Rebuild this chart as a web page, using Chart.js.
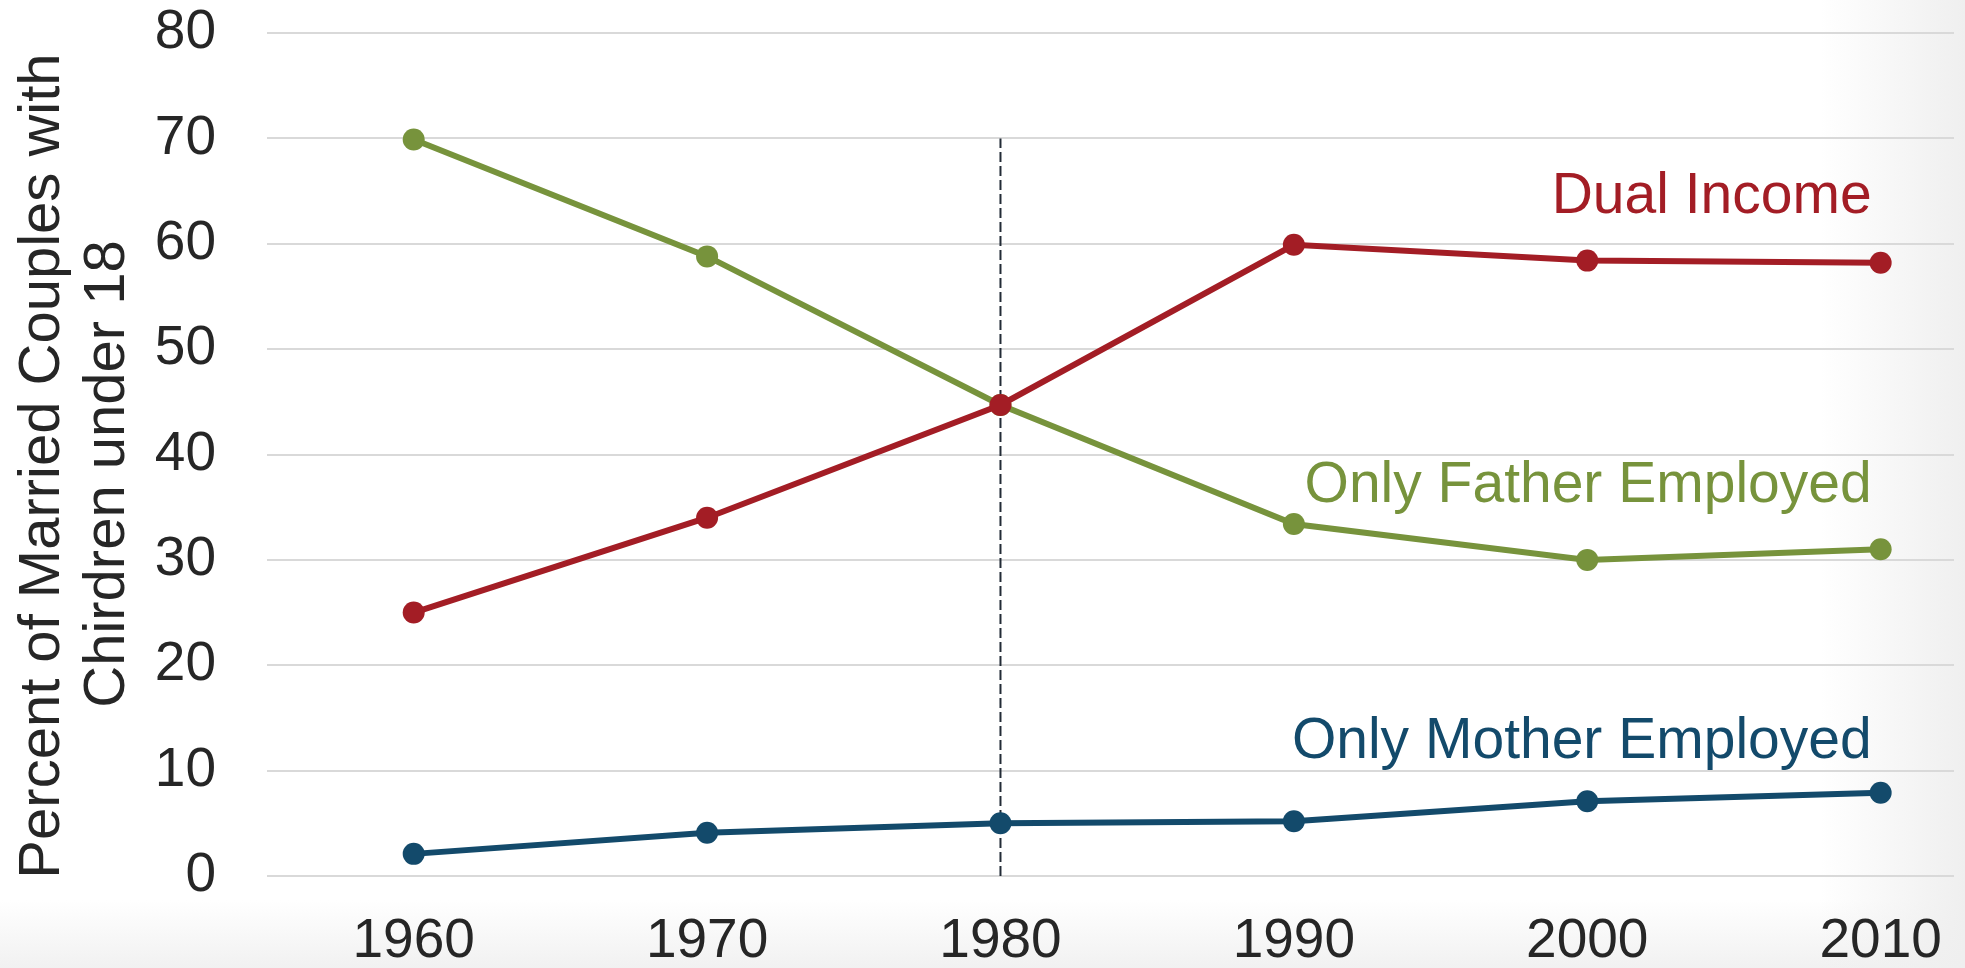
<!DOCTYPE html>
<html>
<head>
<meta charset="utf-8">
<script src="https://cdn.jsdelivr.net/npm/chart.js@4.4.0/dist/chart.umd.min.js"></script>
<style>
  html, body { margin: 0; padding: 0; }
  body {
    width: 1965px; height: 968px; overflow: hidden;
    background:
      linear-gradient(to right, rgba(255,255,255,0) 0, rgba(255,255,255,0) 1820px, #efefef 1965px),
      linear-gradient(to bottom, #ffffff 0, #ffffff 900px, #f1f1f1 968px);
  }
  #wrap { position: relative; width: 1965px; height: 968px; }
</style>
</head>
<body>
<div id="wrap"><canvas id="chart" width="1965" height="968"></canvas></div>
<script>
"use strict";

// values
const years = [1960, 1970, 1980, 1990, 2000, 2010];
const dualIncome = [25.0, 34.0, 44.7, 59.9, 58.4, 58.2];
const onlyFather = [69.9, 58.8, 44.7, 33.4, 30.0, 31.0];
const onlyMother = [2.1, 4.1, 5.0, 5.2, 7.1, 7.9];
const yTicks = [0, 10, 20, 30, 40, 50, 60, 70, 80];
const markerYear = 1980;
const markerSpan = [0, 70];
const seriesNames = ["Dual Income", "Only Father Employed", "Only Mother Employed"];
const yTitle = ["Percent of Married Couples with", "Chirdren under 18"];

const RED = "#a31d25";
const GREEN = "#77933c";
const NAVY = "#134a6b";
const FONT = "'Liberation Sans', Arial, sans-serif";

function toPoints(vals) {
  return years.map((y, i) => ({ x: y, y: vals[i] }));
}

function lineSet(label, vals, color) {
  return {
    label: label,
    data: toPoints(vals),
    borderColor: color,
    backgroundColor: color,
    pointBackgroundColor: color,
    pointBorderWidth: 0,
    pointRadius: 11,
    borderWidth: 6,
    tension: 0
  };
}

// series names + rotated axis title
const textPlugin = {
  id: "texts",
  afterDraw(chart) {
    const ctx = chart.ctx;
    const xs = chart.scales.x, ys = chart.scales.y;
    const right = xs.getPixelForValue(2010) - 9;
    ctx.save();
    ctx.font = "57px " + FONT;
    ctx.textAlign = "right";
    ctx.textBaseline = "alphabetic";
    [[seriesNames[0], RED, 62.9], [seriesNames[1], GREEN, 35.5], [seriesNames[2], NAVY, 11.2]].forEach(t => {
      ctx.fillStyle = t[1];
      ctx.fillText(t[0], right, ys.getPixelForValue(t[2]));
    });

    ctx.font = "58px " + FONT;
    ctx.fillStyle = "#262626";
    ctx.textAlign = "center";
    [[yTitle[0], 59, 466], [yTitle[1], 124, 474]].forEach(t => {
      ctx.save();
      ctx.translate(t[1], t[2]);
      ctx.rotate(-Math.PI / 2);
      ctx.fillText(t[0], 0, 0);
      ctx.restore();
    });
    ctx.restore();
  }
};

function noPad(s) {
  s.paddingTop = 0; s.paddingBottom = 0;
  s.paddingLeft = 0; s.paddingRight = 0;
}

new Chart(document.getElementById("chart"), {
  type: "line",
  data: {
    datasets: [
      {
        label: "1980 marker",
        data: markerSpan.map(v => ({ x: markerYear, y: v })),
        borderColor: "#222b36",
        borderWidth: 2,
        borderDash: [10, 4],
        pointRadius: 0,
        order: 5
      },
      lineSet(seriesNames[0], dualIncome, RED),
      lineSet(seriesNames[2], onlyMother, NAVY),
      lineSet(seriesNames[1], onlyFather, GREEN)
    ]
  },
  options: {
    responsive: false,
    animation: false,
    layout: { padding: { top: 33, right: 0, left: 0, bottom: 0 } },
    plugins: {
      legend: { display: false },
      tooltip: { enabled: false }
    },
    scales: {
      x: {
        type: "linear",
        min: 1955,
        max: 2012.5,
        afterBuildTicks: s => { s.ticks = years.map(v => ({ value: v })); },
        afterFit: s => { s.height = 92; noPad(s); },
        grid: { display: false, drawTicks: false },
        border: { display: false },
        ticks: {
          padding: 33,
          color: "#262626",
          font: { family: FONT, size: 55 },
          callback: v => String(v)
        }
      },
      y: {
        min: 0,
        max: 80,
        afterBuildTicks: s => { s.ticks = yTicks.map(v => ({ value: v })); },
        afterFit: s => { s.width = 267; noPad(s); },
        grid: { color: "#d9d9d9", lineWidth: 2, drawTicks: false },
        border: { display: false },
        ticks: {
          padding: 51,
          color: "#262626",
          font: { family: FONT, size: 55 }
        }
      }
    }
  },
  plugins: [textPlugin]
});
</script>
</body>
</html>
